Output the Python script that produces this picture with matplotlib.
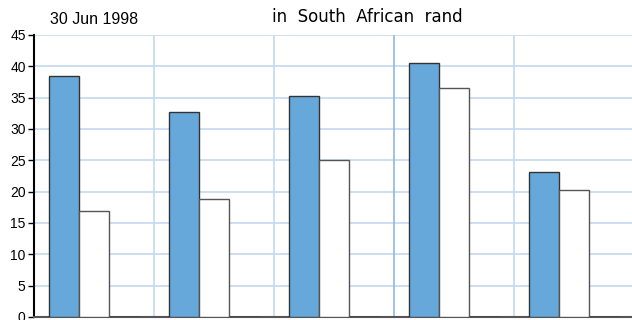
import matplotlib
matplotlib.use("Agg")
import matplotlib.pyplot as plt
import numpy as np

plt.rcParams['font.family'] = ['Liberation Sans', 'DejaVu Sans']

groups = ["G1", "G2", "G3", "G4", "G5"]
series_a = [38.4, 32.7, 35.2, 40.5, 23.2]
series_b = [16.9, 18.9, 25.1, 36.6, 20.2]
series_c = [0, 0, 0, 0, 0]
yticks = [0, 5, 10, 15, 20, 25, 30, 35, 40, 45]

W, H = 632, 320
fig = plt.figure(figsize=(W / 100, H / 100), dpi=100)
ax = fig.add_axes([34 / W, 3 / H, 600 / W, 282 / H])

x = np.arange(len(groups)) + 0.5
bw = 0.25
ax.bar(x - bw, series_a, bw, color='#66a8da', edgecolor='#333333', linewidth=1.0, zorder=3)
ax.bar(x, series_b, bw, color='white', edgecolor='#555555', linewidth=1.0, zorder=3)
ax.bar(x + bw, series_c, bw, color='white', edgecolor='#222222', linewidth=1.0, zorder=3)

ax.set_xlim(0, len(groups))
ax.set_ylim(0, 45)
ax.set_yticks(yticks)
ax.set_xticks([])

for yv in yticks[1:]:
    ax.axhline(yv, color='#c3d9ef', linewidth=1.2, zorder=1)
for i in range(1, len(groups)):
    col = '#8db8e2' if i == 3 else '#c3d9ef'
    ax.axvline(i, color=col, linewidth=1.2, zorder=1)

for s in ['top', 'right']:
    ax.spines[s].set_visible(False)
ax.spines['left'].set_color('black')
ax.spines['left'].set_linewidth(1.5)
ax.spines['bottom'].set_color('#555555')
ax.spines['bottom'].set_linewidth(1.5)
ax.tick_params(axis='y', direction='out', length=4, width=1, colors='black', labelsize=10, pad=2)

fig.text(50 / W, 1 - 20 / H, "30 Jun 1998", fontsize=11.5, ha='left', va='center')
fig.text(367 / W, 1 - 17 / H, "in  South  African  rand", fontsize=12,
         family=['DejaVu Sans'], ha='center', va='center')

fig.savefig("out.png", dpi=100)
